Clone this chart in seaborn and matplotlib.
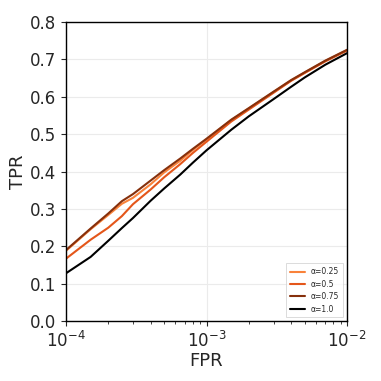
import matplotlib
matplotlib.use("Agg")
import matplotlib.pyplot as plt
import seaborn as sns
import pandas as pd

fpr = [1e-4, 1.5e-4, 2e-4, 2.5e-4, 3e-4, 4e-4, 5e-4, 6.5e-4, 8e-4, 1e-3,
       1.5e-3, 2e-3, 3e-3, 4e-3, 5e-3, 7e-3, 1e-2]
tpr_025 = [0.188, 0.246, 0.284, 0.314, 0.330, 0.366, 0.398, 0.429, 0.458, 0.486,
           0.538, 0.569, 0.613, 0.644, 0.665, 0.696, 0.725]
tpr_05 = [0.167, 0.218, 0.250, 0.281, 0.313, 0.352, 0.385, 0.420, 0.450, 0.480,
          0.534, 0.566, 0.611, 0.643, 0.664, 0.695, 0.724]
tpr_075 = [0.190, 0.248, 0.288, 0.321, 0.340, 0.376, 0.404, 0.435, 0.461, 0.488,
           0.539, 0.570, 0.614, 0.645, 0.666, 0.697, 0.726]
tpr_10 = [0.128, 0.172, 0.215, 0.249, 0.276, 0.322, 0.355, 0.392, 0.424, 0.457,
          0.512, 0.548, 0.594, 0.627, 0.652, 0.686, 0.717]

labels = ["α=0.25", "α=0.5", "α=0.75", "α=1.0"]
colors = ["#f9823a", "#e4561a", "#86300c", "#000000"]

# long format for seaborn
rows = []
for lab, vals in zip(labels, [tpr_025, tpr_05, tpr_075, tpr_10]):
    for x, y in zip(fpr, vals):
        rows.append({"FPR": x, "TPR": y, "alpha": lab})
df = pd.DataFrame(rows)

sns.set_style("ticks")
fig = plt.figure(figsize=(3.81, 3.81), dpi=100)
ax = fig.add_axes([0.173, 0.157, 0.738, 0.785])

sns.lineplot(data=df, x="FPR", y="TPR", hue="alpha", hue_order=labels,
             palette=colors, linewidth=1.5, ax=ax)

ax.set_xscale("log")
ax.set_xlim(1e-4, 1e-2)
ax.set_ylim(0, 0.8)
ax.grid(True, color="#ebebeb", linewidth=0.8)
ax.set_axisbelow(True)
ax.tick_params(axis="both", labelsize=12, direction="out", length=3.5)
ax.tick_params(axis="x", which="minor", length=2)
ax.set_xlabel("FPR", fontsize=13, labelpad=1)
ax.set_ylabel("TPR", fontsize=13, labelpad=2)
for s in ax.spines.values():
    s.set_color("black")
    s.set_linewidth(1.0)

leg = ax.legend(loc="lower right", fontsize=5.5, frameon=True, fancybox=False,
                handlelength=2.0, handletextpad=0.8, borderpad=0.5,
                labelspacing=0.45)
leg.get_frame().set_edgecolor("#cccccc")
leg.get_frame().set_linewidth(0.6)

fig.savefig("out.png", dpi=100)
